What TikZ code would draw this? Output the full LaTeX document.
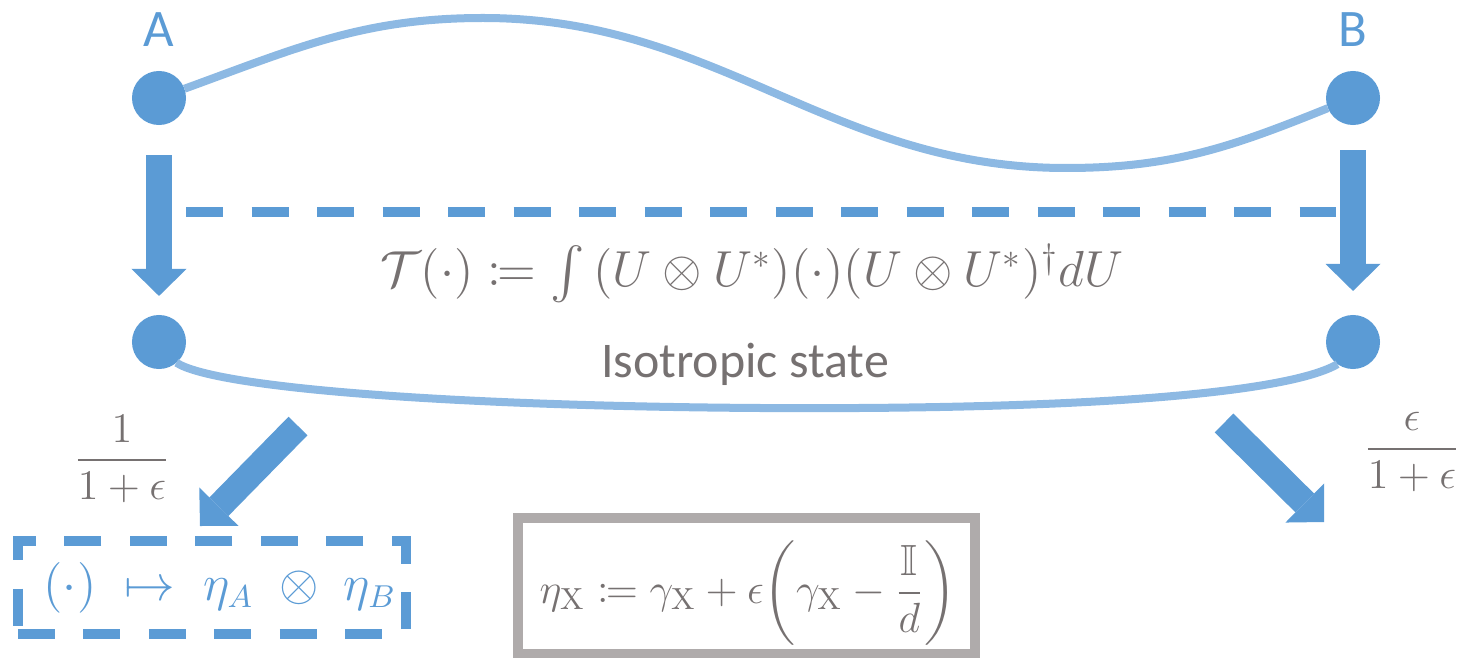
\documentclass[tikz,border=0pt]{standalone}
\usepackage{fontspec}
\usepackage{amsmath,amssymb,mathtools}
\newfontfamily\calib{Carlito}
\usetikzlibrary{arrows.meta}
\definecolor{pblue}{HTML}{5B9BD5}
\definecolor{lblue}{HTML}{8DB9E3}
\definecolor{tgray}{HTML}{767171}
\definecolor{bgray}{HTML}{AFABAB}
\begin{document}
\begin{tikzpicture}[x=0.01cm,y=-0.01cm,
  dot/.style={circle,fill=pblue,minimum size=0.54cm,inner sep=0pt,outer sep=0pt},
  curve/.style={lblue,line width=0.08cm},
  bigarrow/.style={pblue,line width=0.265cm,-{Triangle[length=0.27cm,width=0.55cm,line width=0pt]}},
  dashblue/.style={pblue,line width=0.095cm,dash pattern=on 0.37cm off 0.2847cm},
  lbl/.style={text=pblue,font=\calib\fontsize{15}{18}\selectfont,inner sep=0pt},
  mtxt/.style={text=tgray,inner sep=0pt},
]
\useasboundingbox (0,0) rectangle (1464,658);
% nodes
\node[dot] (A) at (159,98) {};
\node[dot] (B) at (1353,98) {};
\node[dot] (A2) at (159,342) {};
\node[dot] (B2) at (1353,342) {};
\node[lbl,anchor=base] (la) at (159,47) {A};
\node[lbl,anchor=base] (lb) at (1353,47) {B};
% top curve
\coordinate (tp) at (483,18);
\coordinate (tl) at (1066,168);
\draw[curve] (A) to[out=20,in=180] (tp) to[out=0,in=180] (tl) to[out=0,in=202] (B);
% bottom curve
\coordinate (bl) at (760,408);
\draw[curve] (A2.-50) .. controls (215,388) and (450,406) .. (bl)
  .. controls (1100,410) and (1290,392) .. (B2.-125);
% vertical arrows
\draw[bigarrow,shorten <=0.30cm,shorten >=0.19cm] (A) -- (A2);
\draw[bigarrow,shorten <=0.25cm,shorten >=0.24cm] (B) -- (B2);
% dashed line
\coordinate (dl) at (186,212);
\coordinate (dr) at (1336,212);
\draw[dashblue] (dl) -- (dr);
% formula
\node[mtxt,anchor=base,font=\fontsize{14.7}{17}\selectfont] (T) at (752,287)
  {$\mathcal{T}(\cdot) \coloneqq \int\,(U\otimes U^*)(\cdot)(U\otimes U^*)^\dagger dU$};
\node[mtxt,anchor=base,font=\calib\fontsize{14.2}{17}\selectfont] (iso) at (745,377) {Isotropic state};
% fractions
\node[mtxt,font=\fontsize{12.5}{15}\selectfont] (f1) at (122,459) {$\dfrac{1}{1+\epsilon}$};
\node[mtxt,font=\fontsize{12.5}{15}\selectfont] (f2) at (1412,452) {$\dfrac{\epsilon}{1+\epsilon}$};
% diagonal arrows
\coordinate (d1s) at (298,426);
\coordinate (d1e) at (200,526);
\draw[bigarrow] (d1s) -- (d1e);
\coordinate (d2s) at (1224,423);
\coordinate (d2e) at (1324,522);
\draw[bigarrow] (d2s) -- (d2e);
% left dashed box
\node[dashblue,draw,minimum width=3.88cm,minimum height=0.93cm,inner sep=0pt,
  text=pblue,font=\fontsize{13.5}{16}\selectfont] (box1) at (212,587.5)
  {\hspace*{0.16cm}$(\cdot) \;\mapsto\; \eta_A \;\otimes\; \eta_B$};
% gray box
\node[draw=bgray,line width=0.095cm,minimum width=4.57cm,minimum height=1.36cm,inner sep=0pt] (box2) at (746.5,586) {};
\node[mtxt,font=\fontsize{12.4}{15}\selectfont] (eta) at (748,593)
  {$\eta_{\mathrm{X}} \coloneqq \gamma_{\mathrm{X}} + \epsilon\biggl(\gamma_{\mathrm{X}} - \dfrac{\mathbb{I}}{d}\biggr)$};
\end{tikzpicture}
\end{document}
